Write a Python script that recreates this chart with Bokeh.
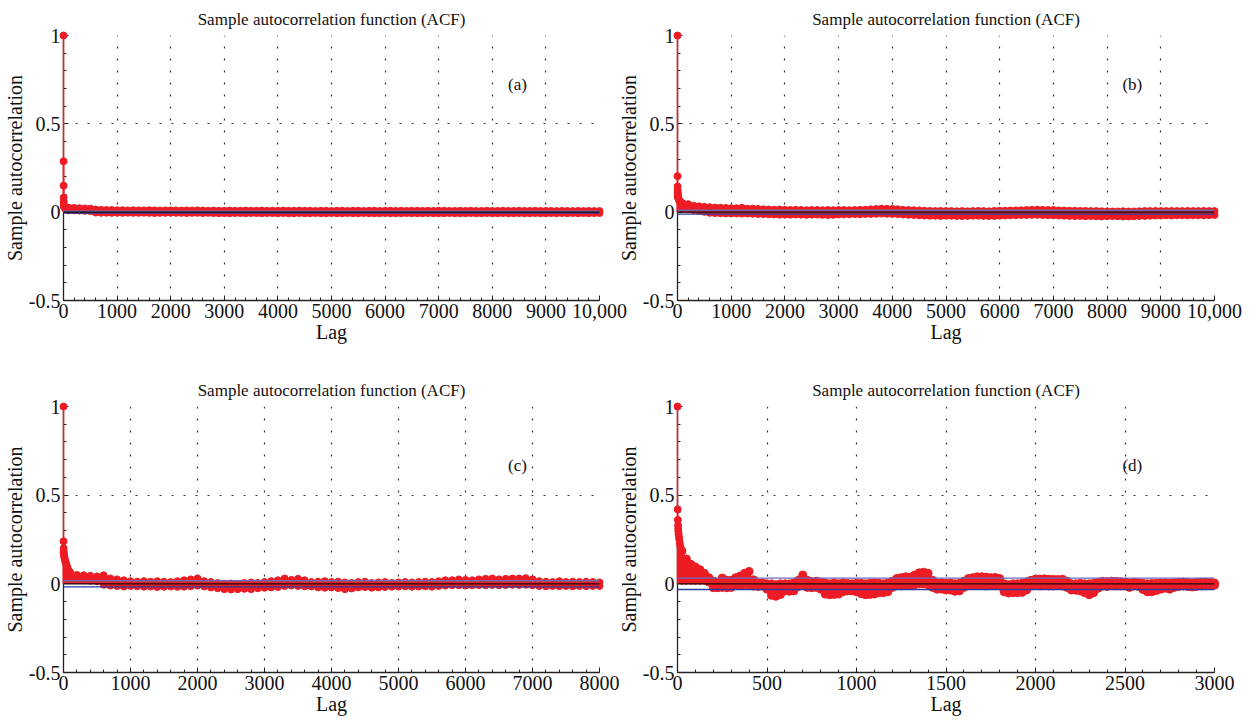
from bokeh.plotting import figure
from bokeh.layouts import column, row
from bokeh.models import Range1d, FixedTicker, Label, Span
from bokeh.embed import file_html
from bokeh.resources import INLINE

FONT = "Liberation Serif"
RED = "#ED1C24"
TITLE = "Sample autocorrelation function (ACF)"

# ---------------- data ----------------
# Panel (a): first lags, then upper / lower envelope of the dense stems every 100 lags
a_early_lags = [0, 1, 2, 3, 4, 5, 7, 10, 15, 20, 30, 50]
a_early_vals = [1.0, 0.288, 0.150, 0.083, 0.060, 0.045, 0.035, 0.030, 0.028, 0.026, 0.025, 0.025]
a_lags = list(range(100, 10001, 100))
a_hi = [0.025, 0.024, 0.022, 0.021, 0.020, 0.015, 0.013, 0.012, 0.012, 0.011,
        0.011, 0.010, 0.011, 0.010, 0.010, 0.011, 0.010, 0.009, 0.010, 0.010,
        0.010, 0.009, 0.010, 0.009, 0.010, 0.009, 0.008, 0.009, 0.008, 0.008,
        0.009, 0.008, 0.008, 0.009, 0.008, 0.008, 0.009, 0.008, 0.008, 0.008,
        0.009, 0.008, 0.008, 0.009, 0.008, 0.008, 0.007, 0.008, 0.008, 0.007,
        0.008, 0.008, 0.007, 0.008, 0.008, 0.007, 0.008, 0.008, 0.007, 0.008,
        0.008, 0.007, 0.008, 0.007, 0.008, 0.008, 0.007, 0.008, 0.007, 0.008,
        0.008, 0.007, 0.007, 0.008, 0.007, 0.008, 0.007, 0.007, 0.008, 0.007,
        0.007, 0.008, 0.007, 0.007, 0.008, 0.007, 0.007, 0.008, 0.007, 0.007,
        0.007, 0.006, 0.007, 0.007, 0.006, 0.007, 0.006, 0.007, 0.006, 0.006]
a_lo = [0.010, 0.010, 0.009, 0.008, 0.006, -0.002, -0.003, -0.003, -0.004, -0.003,
        -0.004, -0.003, -0.004, -0.004, -0.003, -0.004, -0.005, -0.004, -0.004, -0.003,
        -0.004, -0.004, -0.005, -0.004, -0.004, -0.005, -0.004, -0.005, -0.006, -0.005,
        -0.006, -0.005, -0.005, -0.006, -0.005, -0.005, -0.006, -0.005, -0.005, -0.006,
        -0.005, -0.006, -0.006, -0.005, -0.006, -0.006, -0.005, -0.006, -0.006, -0.005,
        -0.006, -0.006, -0.005, -0.006, -0.006, -0.005, -0.006, -0.006, -0.006, -0.005,
        -0.006, -0.006, -0.006, -0.005, -0.006, -0.006, -0.006, -0.005, -0.006, -0.006,
        -0.006, -0.005, -0.006, -0.006, -0.006, -0.005, -0.006, -0.006, -0.005, -0.006,
        -0.006, -0.005, -0.006, -0.006, -0.005, -0.006, -0.006, -0.005, -0.006, -0.006,
        -0.005, -0.006, -0.005, -0.006, -0.005, -0.006, -0.005, -0.006, -0.005, -0.005]
a_bound = 0.005

# Panel (b)
b_early_lags = [0, 1, 2, 3, 4, 5, 6, 8, 10, 15, 20, 30, 50, 70]
b_early_vals = [1.0, 0.204, 0.145, 0.125, 0.110, 0.100, 0.095, 0.090, 0.085, 0.080, 0.075, 0.068, 0.060, 0.055]
b_lags = list(range(100, 10001, 100))
b_hi = [0.050, 0.045, 0.036, 0.033, 0.030, 0.028, 0.026, 0.025, 0.024, 0.022,
        0.022, 0.025, 0.020, 0.020, 0.018, 0.016, 0.015, 0.014, 0.015, 0.013,
        0.012, 0.013, 0.012, 0.011, 0.012, 0.012, 0.011, 0.012, 0.011, 0.012,
        0.012, 0.011, 0.012, 0.013, 0.014, 0.016, 0.018, 0.020, 0.019, 0.018,
        0.016, 0.013, 0.012, 0.011, 0.010, 0.008, 0.007, 0.006, 0.007, 0.006,
        0.006, 0.005, 0.006, 0.005, 0.006, 0.007, 0.006, 0.005, 0.007, 0.008,
        0.008, 0.009, 0.010, 0.011, 0.012, 0.013, 0.014, 0.013, 0.012, 0.012,
        0.010, 0.009, 0.008, 0.008, 0.007, 0.007, 0.006, 0.006, 0.005, 0.005,
        0.004, 0.004, 0.005, 0.004, 0.004, 0.005, 0.006, 0.006, 0.007, 0.006,
        0.006, 0.007, 0.006, 0.006, 0.007, 0.006, 0.006, 0.007, 0.006, 0.006]
b_lo = [0.020, 0.016, 0.012, 0.008, 0.002, -0.004, -0.005, -0.006, -0.007, -0.007,
        -0.007, -0.008, -0.008, -0.009, -0.010, -0.011, -0.012, -0.013, -0.014, -0.014,
        -0.014, -0.013, -0.014, -0.015, -0.014, -0.013, -0.015, -0.016, -0.015, -0.013,
        -0.012, -0.012, -0.011, -0.012, -0.010, -0.010, -0.009, -0.008, -0.009, -0.010,
        -0.011, -0.013, -0.015, -0.016, -0.018, -0.019, -0.020, -0.020, -0.021, -0.020,
        -0.020, -0.021, -0.022, -0.021, -0.020, -0.020, -0.021, -0.022, -0.021, -0.020,
        -0.019, -0.018, -0.017, -0.016, -0.016, -0.015, -0.015, -0.016, -0.017, -0.018,
        -0.019, -0.020, -0.021, -0.022, -0.022, -0.023, -0.022, -0.023, -0.024, -0.023,
        -0.022, -0.023, -0.024, -0.024, -0.023, -0.022, -0.021, -0.020, -0.019, -0.019,
        -0.018, -0.019, -0.018, -0.017, -0.018, -0.018, -0.017, -0.018, -0.017, -0.016]
b_bound = 0.011

# Panel (c)
c_early_lags = [0, 1, 2, 3, 5, 8, 12, 18, 25, 32, 40, 50, 60, 75, 90]
c_early_vals = [1.0, 0.240, 0.200, 0.180, 0.170, 0.160, 0.150, 0.140, 0.130, 0.120, 0.115, 0.100, 0.090, 0.075, 0.068]
c_lags = list(range(100, 8001, 100))
c_hi = [0.065, 0.050, 0.048, 0.045, 0.042, 0.048, 0.030, 0.025, 0.020, 0.015,
        0.012, 0.015, 0.012, 0.015, 0.012, 0.010, 0.015, 0.020, 0.025, 0.030,
        0.015, 0.010, 0.005, 0.000, 0.002, 0.000, 0.005, 0.008, 0.005, 0.010,
        0.015, 0.020, 0.030, 0.022, 0.028, 0.020, 0.010, 0.012, 0.015, 0.010,
        0.012, 0.008, 0.005, 0.010, 0.012, 0.005, 0.008, 0.010, 0.005, 0.008,
        0.010, 0.008, 0.010, 0.012, 0.010, 0.015, 0.020, 0.020, 0.025, 0.022,
        0.020, 0.025, 0.028, 0.030, 0.025, 0.028, 0.030, 0.030, 0.032, 0.025,
        0.015, 0.012, 0.010, 0.015, 0.010, 0.012, 0.010, 0.012, 0.010, 0.008]
c_lo = [0.025, 0.020, 0.020, 0.018, 0.015, -0.005, -0.010, -0.012, -0.015, -0.012,
        -0.014, -0.016, -0.015, -0.018, -0.016, -0.015, -0.017, -0.016, -0.014, -0.010,
        -0.015, -0.020, -0.025, -0.030, -0.032, -0.030, -0.028, -0.030, -0.025, -0.022,
        -0.020, -0.018, -0.012, -0.010, -0.012, -0.014, -0.015, -0.020, -0.022, -0.020,
        -0.024, -0.030, -0.026, -0.020, -0.018, -0.022, -0.020, -0.018, -0.016, -0.015,
        -0.014, -0.016, -0.015, -0.014, -0.016, -0.012, -0.010, -0.008, -0.008, -0.010,
        -0.008, -0.007, -0.008, -0.006, -0.008, -0.007, -0.005, -0.006, -0.005, -0.008,
        -0.012, -0.014, -0.012, -0.013, -0.012, -0.014, -0.012, -0.013, -0.012, -0.012]
c_bound = 0.017

# Panel (d): envelope every 25 lags
d_early_lags = [0, 1, 2, 3, 4, 5, 6, 8, 10, 13, 16, 20]
d_early_vals = [1.0, 0.420, 0.360, 0.330, 0.310, 0.295, 0.280, 0.265, 0.250, 0.230, 0.210, 0.195]
d_lags = list(range(25, 3001, 25))
d_hi = [0.185, 0.14, 0.11, 0.095, 0.08, 0.06, 0.035, 0.016, 0.005, 0.033,
        0.02, 0.02, 0.035, 0.044, 0.06, 0.07, 0.023, 0.005, 0.005, 0.0,
        0.0, -0.005, 0.0, 0.0, 0.0, 0.005, 0.02, 0.05, 0.02, 0.012,
        0.015, 0.01, 0.005, 0.0, 0.005, 0.0, 0.005, 0.002, 0.0, 0.003,
        0.003, 0.0, 0.003, 0.005, 0.003, 0.0, 0.005, 0.015, 0.03, 0.035,
        0.04, 0.038, 0.05, 0.062, 0.066, 0.06, 0.02, 0.005, 0.005, 0.003,
        0.005, 0.0, 0.003, 0.015, 0.03, 0.035, 0.04, 0.04, 0.038, 0.035,
        0.036, 0.03, 0.0, -0.005, 0.0, 0.0, 0.003, 0.01, 0.02, 0.027,
        0.027, 0.028, 0.026, 0.025, 0.024, 0.026, 0.015, 0.0, 0.0, 0.003,
        0.0, 0.0, 0.003, 0.008, 0.014, 0.012, 0.015, 0.014, 0.012, 0.01,
        0.005, 0.008, 0.005, 0.003, 0.0, 0.002, 0.003, 0.005, 0.005, 0.003,
        0.005, 0.008, 0.01, 0.008, 0.005, 0.008, 0.01, 0.01, 0.008, 0.005]
d_lo = [0.02, 0.02, 0.02, 0.02, 0.02, 0.02, 0.01, -0.022, -0.022, -0.02,
        -0.022, -0.02, -0.01, -0.008, -0.005, -0.005, -0.013, -0.015, -0.013, -0.03,
        -0.065, -0.07, -0.06, -0.04, -0.042, -0.04, -0.015, -0.01, -0.02, -0.022,
        -0.02, -0.03, -0.058, -0.062, -0.06, -0.058, -0.045, -0.04, -0.04, -0.045,
        -0.055, -0.062, -0.06, -0.058, -0.05, -0.05, -0.045, -0.02, -0.01, -0.012,
        -0.01, -0.008, -0.005, 0.0, 0.0, -0.005, -0.02, -0.03, -0.03, -0.035,
        -0.035, -0.042, -0.04, -0.02, -0.01, -0.01, -0.008, -0.01, -0.012, -0.01,
        -0.01, -0.012, -0.045, -0.052, -0.05, -0.05, -0.048, -0.035, -0.012, -0.01,
        -0.012, -0.01, -0.012, -0.012, -0.01, -0.012, -0.02, -0.035, -0.036, -0.04,
        -0.05, -0.062, -0.05, -0.025, -0.012, -0.015, -0.01, -0.012, -0.012, -0.012,
        -0.02, -0.012, -0.015, -0.032, -0.045, -0.045, -0.038, -0.03, -0.025, -0.03,
        -0.02, -0.015, -0.012, -0.015, -0.018, -0.015, -0.012, -0.012, -0.01, -0.008]
d_bound = 0.032

y_ticks = [-0.5, 0, 0.5, 1]
y_labels = ["-0.5", "0", "0.5", "1"]


def make_panel(letter, x_end, x_step, x_minor, early_lags, early_vals, lags, hi, lo,
               bound, frame_w, frame_h, b_top, b_bottom, neg_margin, msize, lab_y):
    p = figure(frame_width=frame_w, frame_height=frame_h,
               x_range=Range1d(0, x_end), y_range=Range1d(-0.5, 1),
               output_backend="svg", toolbar_location=None, title=TITLE,
               min_border_left=56, min_border_right=34, min_border_top=b_top,
               min_border_bottom=b_bottom)
    if neg_margin:
        p.margin = (0, 0, 0, -neg_margin)
    p.border_fill_alpha = 0
    p.outline_line_color = None
    p.title.align = "center"
    p.title.text_font = FONT
    p.title.text_font_size = "17px"
    p.title.text_font_style = "normal"
    p.title.text_color = "#111111"
    p.title.standoff = 13

    x_major = list(range(0, x_end + 1, x_step))
    x_min = list(range(0, x_end + 1, x_minor))
    p.xaxis.ticker = FixedTicker(ticks=x_major, minor_ticks=x_min)
    p.yaxis.ticker = FixedTicker(ticks=y_ticks, minor_ticks=[-0.5 + 0.1 * i for i in range(16)])
    p.yaxis.major_label_overrides = {t: s for t, s in zip(y_ticks, y_labels)}
    if x_end >= 10000:
        p.xaxis.major_label_overrides = {10000: "10,000"}
    p.xaxis.axis_label = "Lag"
    p.yaxis.axis_label = "Sample autocorrelation"
    for ax in (p.xaxis[0], p.yaxis[0]):
        ax.axis_line_color = "#222222"
        ax.axis_line_width = 1.3
        ax.major_tick_in = 5
        ax.major_tick_out = 0
        ax.minor_tick_in = 3
        ax.minor_tick_out = 0
        ax.major_tick_line_color = "#222222"
        ax.minor_tick_line_color = "#222222"
        ax.major_label_text_font = FONT
        ax.major_label_text_font_size = "20px"
        ax.major_label_text_color = "#111111"
        ax.axis_label_text_font = FONT
        ax.axis_label_text_font_size = "20px"
        ax.axis_label_text_font_style = "normal"
        ax.axis_label_text_color = "#111111"
        ax.major_label_standoff = 3
        ax.axis_label_standoff = 0
    for g in (p.xgrid[0], p.ygrid[0]):
        g.grid_line_color = "#333333"
        g.grid_line_dash = "2 10"
        g.grid_line_width = 1.2

    zeros = [0] * len(lags)
    rs = [p.varea(x=lags, y1=zeros, y2=hi, fill_color=RED),
          p.varea(x=lags, y1=zeros, y2=lo, fill_color=RED)]
    for v in (hi, lo):
        rs.append(p.segment(x0=lags, y0=zeros, x1=lags, y1=v, line_color=RED, line_width=2))
        rs.append(p.scatter(lags, v, size=msize, fill_color=RED, line_color=RED))
    rs.append(p.segment(x0=early_lags, y0=[0] * len(early_lags), x1=early_lags, y1=early_vals,
                        line_color=RED, line_width=1.5))
    rs.append(p.scatter(early_lags, early_vals, size=7, fill_color=RED, line_color=RED))
    for r in rs:
        r.level = "overlay"

    for loc, col in ((bound, "#6a6ab2"), (-bound, "#2c3a9c")):
        s = Span(location=loc, dimension="width", line_color=col, line_width=1.4)
        s.level = "overlay"
        p.add_layout(s)
    z = Span(location=0, dimension="width", line_color="#111111", line_width=1.4)
    z.level = "overlay"
    p.add_layout(z)

    lab = Label(x=x_end * 0.847, y=lab_y, text=f"({letter})", text_font=FONT, text_font_size="17px",
                text_align="center", text_baseline="middle", text_color="#111111")
    p.add_layout(lab)
    return p


pa = make_panel("a", 10000, 1000, 200, a_early_lags, a_early_vals, a_lags, a_hi, a_lo, a_bound,
                536, 265, 35, 71, 0, 7, 0.725)
pb = make_panel("b", 10000, 1000, 200, b_early_lags, b_early_vals, b_lags, b_hi, b_lo, b_bound,
                537, 265, 35, 71, 19, 7, 0.725)
pc = make_panel("c", 8000, 1000, 200, c_early_lags, c_early_vals, c_lags, c_hi, c_lo, c_bound,
                536, 266, 35, 42, 0, 7, 0.67)
pd = make_panel("d", 3000, 500, 100, d_early_lags, d_early_vals, d_lags, d_hi, d_lo, d_bound,
                537, 266, 35, 42, 19, 8, 0.67)

layout = column(row(pa, pb), row(pc, pd))
open("out.html", "w").write(file_html(layout, INLINE))
